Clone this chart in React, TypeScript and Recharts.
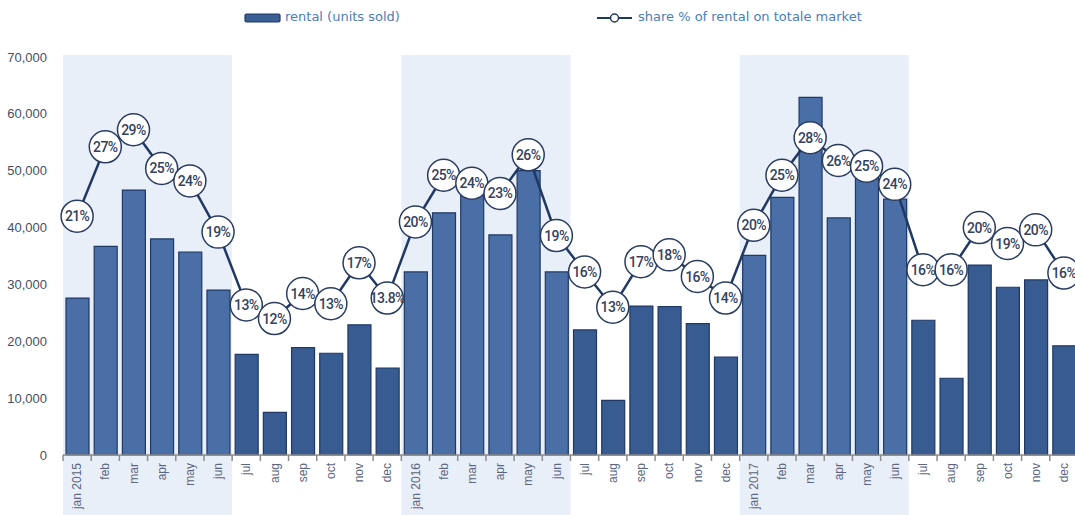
import {
  Bar,
  Cell,
  ComposedChart,
  Line,
  ReferenceArea,
  XAxis,
  YAxis,
} from "recharts"

const months = [
  "jan 2015", "feb", "mar", "apr", "may", "jun", "jul", "aug", "sep", "oct", "nov", "dec",
  "jan 2016", "feb", "mar", "apr", "may", "jun", "jul", "aug", "sep", "oct", "nov", "dec",
  "jan 2017", "feb", "mar", "apr", "may", "jun", "jul", "aug", "sep", "oct", "nov", "dec",
]

const rentalUnits = [
  27600, 36700, 46600, 38000, 35700, 29000, 17700, 7500, 18900, 17900, 22900, 15300,
  32200, 42600, 46500, 38700, 50000, 32200, 22000, 9600, 26200, 26100, 23100, 17200,
  35100, 45300, 62900, 41700, 48900, 45000, 23700, 13500, 33400, 29500, 30800, 19200,
]

const rentalShare = [
  21.0, 27.1, 28.6, 25.2, 24.1, 19.6, 13.2, 12.0, 14.2, 13.3, 16.9, 13.8,
  20.5, 24.6, 23.9, 23.0, 26.4, 19.3, 16.1, 13.0, 17.0, 17.6, 15.7, 13.8,
  20.2, 24.6, 27.9, 25.9, 25.4, 23.8, 16.3, 16.3, 20.0, 18.6, 19.8, 16.0,
]

const shareLabels = [
  "21%", "27%", "29%", "25%", "24%", "19%", "13%", "12%", "14%", "13%", "17%", "13.8%",
  "20%", "25%", "24%", "23%", "26%", "19%", "16%", "13%", "17%", "18%", "16%", "14%",
  "20%", "25%", "28%", "26%", "25%", "24%", "16%", "16%", "20%", "19%", "20%", "16%",
]

const yTicks = [0, 10000, 20000, 30000, 40000, 50000, 60000, 70000]

// first-half-of-year bands (index of jan / jun)
const bands = [
  [0, 5],
  [12, 17],
  [24, 29],
]

const data = months.map((m, i) => ({
  id: i,
  month: m,
  rental: rentalUnits[i],
  share: rentalShare[i],
  label: shareLabels[i],
}))

const NAVY = "#1f3864"
const inBand = (i: number) => i % 12 < 6

function BandShape(props: any) {
  const { x, y, width, height } = props
  return <rect x={x} y={y - 2} width={width} height={height + 64} fill="#e9eff9" />
}

function MonthTick(props: any) {
  const { x, y, payload, index } = props
  const off = payload?.offset ?? 14
  return (
    <g>
      <line x1={x - off} x2={x - off} y1={y} y2={y + 6} stroke="#8c8c8c" strokeWidth={1.5} />
      {index === months.length - 1 && (
        <line x1={x + off} x2={x + off} y1={y} y2={y + 6} stroke="#8c8c8c" strokeWidth={1.5} />
      )}
      <text
        transform={`translate(${x},${y + 8}) rotate(-90)`}
        textAnchor="end"
        dy="0.35em"
        fill="#5b6680"
        fontSize={12}
        fontFamily="'Liberation Sans', Arial, sans-serif"
      >
        {months[payload.value]}
      </text>
    </g>
  )
}

function ShareDot(props: any) {
  const { cx, cy, payload, index } = props
  if (cx == null || cy == null) return <g key={index} />
  return (
    <g key={`dot-${index}`}>
      <circle cx={cx} cy={cy} r={16} fill="#fff" stroke="#2a3c62" strokeWidth={1.5} />
      <text
        x={cx}
        y={cy}
        dy="0.36em"
        textAnchor="middle"
        fill="#34425f"
        fontSize={14}
        fontWeight={500}
        letterSpacing={-0.6}
        fontFamily="Roboto, 'Liberation Sans', sans-serif"
      >
        {payload.label}
      </text>
    </g>
  )
}

function LegendBar() {
  const txt = {
    position: "absolute" as const,
    top: 9,
    fontSize: 13,
    color: "#4a7ebb",
    fontFamily: "'DejaVu Sans', Verdana, sans-serif",
    whiteSpace: "nowrap" as const,
  }
  return (
    <>
      <svg style={{ position: "absolute", left: 244, top: 12 }} width={38} height={12}>
        <rect x={1} y={2} width={35} height={8} rx={1.5} fill="#3a5f95" stroke={NAVY} strokeWidth={1.2} />
      </svg>
      <div style={{ ...txt, left: 285 }}>rental (units sold)</div>
      <svg style={{ position: "absolute", left: 596, top: 11 }} width={38} height={14}>
        <line x1={1} x2={36} y1={7} y2={7} stroke={NAVY} strokeWidth={2} />
        <circle cx={18.5} cy={7} r={4} fill="#fff" stroke={NAVY} strokeWidth={1.5} />
      </svg>
      <div style={{ ...txt, left: 638 }}>share % of rental on totale market</div>
    </>
  )
}

export default function App() {
  return (
    <div
      style={{
        position: "absolute",
        left: 0,
        top: 0,
        width: 1075,
        height: 515,
        overflow: "hidden",
        background: "#fff",
        fontFamily: "'Liberation Sans', Arial, sans-serif",
      }}
    >
      <LegendBar />
      <ComposedChart
        width={1078}
        height={515}
        data={data}
        margin={{ top: 57, right: 0, left: 0, bottom: 0 }}
      >
        {bands.map(([a, b]) => (
          <ReferenceArea
            key={a}
            x1={a}
            x2={b}
            yAxisId="units"
            shape={<BandShape />}
            fill="#e9eff9"
            fillOpacity={1}
          />
        ))}
        <XAxis
          dataKey="id"
          type="category"
          interval={0}
          height={60}
          tickSize={0}
          tickMargin={0}
          axisLine={{ stroke: "#8c8c8c", strokeWidth: 1.5 }}
          tick={<MonthTick />}
        />
        <YAxis
          yAxisId="units"
          domain={[0, 70000]}
          ticks={yTicks}
          width={63}
          axisLine={false}
          tickLine={false}
          tickSize={0}
          tickMargin={16}
          tick={{ fill: "#444f63", fontSize: 13 }}
          tickFormatter={(v: number) => v.toLocaleString("en-US")}
        />
        <YAxis yAxisId="share" orientation="right" domain={[0, 35]} hide />
        <Bar
          yAxisId="units"
          dataKey="rental"
          barSize={23}
          stroke={NAVY}
          strokeWidth={1.2}
          isAnimationActive={false}
        >
          {data.map((d) => (
            <Cell key={d.id} fill={inBand(d.id) ? "#4a6fa6" : "#385c92"} />
          ))}
        </Bar>
        <Line
          yAxisId="share"
          dataKey="share"
          type="linear"
          stroke={NAVY}
          strokeWidth={2.5}
          dot={(p: any) => <ShareDot {...p} />}
          activeDot={false}
          isAnimationActive={false}
        />
      </ComposedChart>
    </div>
  )
}
